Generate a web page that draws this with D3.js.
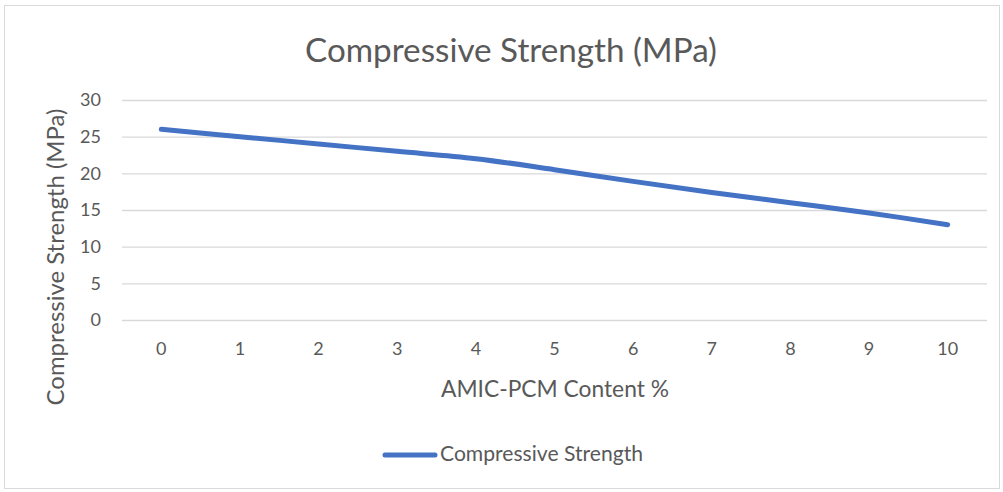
<!DOCTYPE html>
<html>
<head>
<meta charset="utf-8">
<script src="https://cdn.jsdelivr.net/npm/d3@7"></script>
<style>
  html, body { margin: 0; padding: 0; background: #ffffff; }
  svg { display: block; }
  text { font-family: Lato, "Open Sans", "DejaVu Sans", sans-serif; fill: #595959; }
</style>
</head>
<body>
<svg id="chart" width="1003" height="492"></svg>
<script>
const categories = ["0", "1", "2", "3", "4", "5", "6", "7", "8", "9", "10"];
const strengthValues = [26, 25, 24, 23, 22, 20.5, 18.9, 17.4, 16, 14.6, 13];
const yTicks = [0, 5, 10, 15, 20, 25, 30];
const chartTitle = "Compressive Strength (MPa)";
const xTitle = "AMIC-PCM Content %";
const yTitle = "Compressive Strength  (MPa)";
const seriesName = "Compressive Strength";

const svg = d3.select("#chart");
const W = 1003, H = 492;
const plot = { left: 122, right: 987, top: 100, bottom: 320 };

// chart border
svg.append("rect")
  .attr("x", 4.5).attr("y", 5.5)
  .attr("width", W - 8).attr("height", H - 9)
  .attr("fill", "#ffffff")
  .attr("stroke", "#d9d9d9")
  .attr("stroke-width", 1);

const x = d3.scaleBand().domain(categories).range([plot.left, plot.right]);
const y = d3.scaleLinear().domain([0, 30]).range([plot.bottom, plot.top]);

function fitText(sel, targetWidth) {
  const node = sel.node();
  const fs = parseFloat(sel.attr("font-size"));
  const w = node.getComputedTextLength();
  sel.attr("font-size", (fs * targetWidth / w).toFixed(2));
  return sel;
}

// gridlines
const yAxis = d3.axisLeft(y).tickValues(yTicks)
  .tickSize(-(plot.right - plot.left)).tickPadding(21).tickFormat(d3.format("d"));
const gy = svg.append("g").attr("transform", `translate(${plot.left},0)`).call(yAxis);
gy.select(".domain").remove();
gy.selectAll(".tick line").attr("stroke", "#d9d9d9").attr("stroke-width", 1.3);
gy.selectAll(".tick text")
  .attr("font-size", 18).attr("fill", "#595959")
  .style("font-family", "Lato, 'Open Sans', sans-serif");

// x axis labels
const xAxis = d3.axisBottom(x).tickSize(0).tickPadding(22);
const gx = svg.append("g").attr("transform", `translate(0,${plot.bottom})`).call(xAxis);
gx.select(".domain").remove();
gx.selectAll(".tick text")
  .attr("font-size", 18).attr("fill", "#595959")
  .style("font-family", "Lato, 'Open Sans', sans-serif");

// line
const line = d3.line()
  .x((d, i) => x(categories[i]) + x.bandwidth() / 2)
  .y(d => y(d))
  .curve(d3.curveCatmullRom.alpha(0.5));
svg.append("path")
  .datum(strengthValues)
  .attr("d", line)
  .attr("fill", "none")
  .attr("stroke", "#4472c4")
  .attr("stroke-width", 5)
  .attr("stroke-linecap", "round")
  .attr("stroke-linejoin", "round");

// title
const t = svg.append("text")
  .attr("x", 511).attr("y", 62)
  .attr("text-anchor", "middle")
  .attr("font-size", 28)
  .text(chartTitle);
fitText(t, 412);

// x axis title
const xt = svg.append("text")
  .attr("x", 555).attr("y", 397)
  .attr("text-anchor", "middle")
  .attr("font-size", 19)
  .text(xTitle);
fitText(xt, 228);

// y axis title
const yt = svg.append("text")
  .attr("transform", "translate(64,257) rotate(-90)")
  .attr("text-anchor", "middle")
  .attr("font-size", 19)
  .text(yTitle);
fitText(yt, 297);

// legend
const lg = svg.append("g");
lg.append("line")
  .attr("x1", 385).attr("x2", 435)
  .attr("y1", 455).attr("y2", 455)
  .attr("stroke", "#4472c4").attr("stroke-width", 5)
  .attr("stroke-linecap", "round");
const lt = lg.append("text")
  .attr("x", 440).attr("y", 461)
  .attr("font-size", 18)
  .text(seriesName);
fitText(lt, 203);
</script>
</body>
</html>
